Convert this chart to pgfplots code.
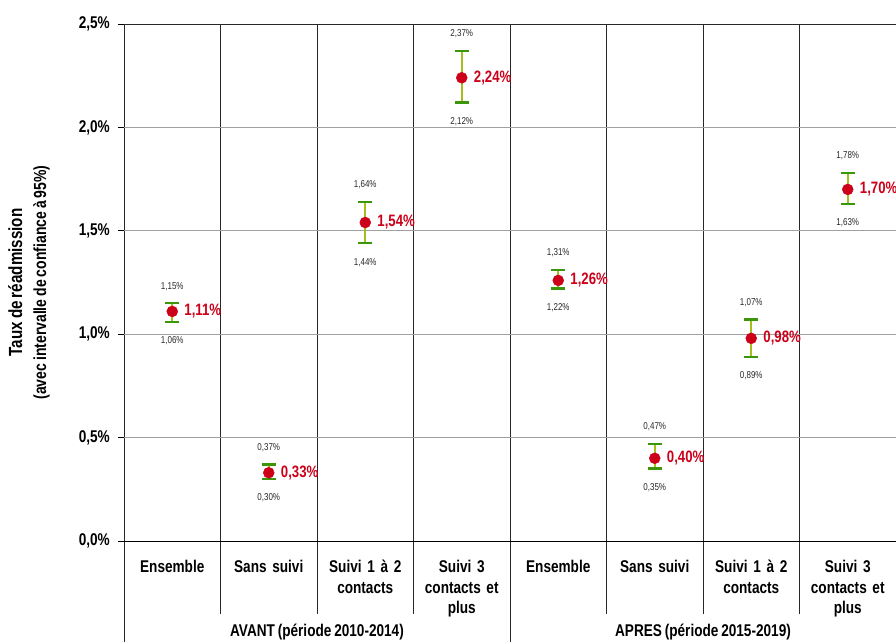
\documentclass[border=0pt]{standalone}
\usepackage{fontspec}
\setmainfont{Liberation Sans}[FakeStretch=0.8, WordSpace=0.75]
\usepackage{pgfplots}
\pgfplotsset{compat=1.18}
\usepackage{pgfplotstable}

\definecolor{myred}{RGB}{204,0,24}
\definecolor{olivebar}{RGB}{165,190,30}
\definecolor{capgreen}{RGB}{60,150,10}
\definecolor{vline}{RGB}{40,40,40}
\definecolor{gridgray}{RGB}{160,160,160}
\definecolor{smalltext}{RGB}{40,40,40}

\pgfplotstableread{
x y hi lo
0.5 1.11 1.15 1.06
1.5 0.33 0.37 0.30
2.5 1.54 1.64 1.44
3.5 2.24 2.37 2.12
4.5 1.26 1.31 1.22
5.5 0.40 0.47 0.35
6.5 0.98 1.07 0.89
7.5 1.70 1.78 1.63
}\data

\begin{document}
\begin{tikzpicture}
\path[use as bounding box] (-124pt,-101pt) rectangle (772pt,541pt);
% separators (axis south west is at the origin, 96.5pt per category)
\begin{scope}[vline, line width=0.9pt]
\draw (0pt,517pt) -- (0pt,-101pt);
\draw (386pt,517pt) -- (386pt,-101pt);
\draw (96.5pt,517pt) -- (96.5pt,-73pt);
\draw (193pt,517pt) -- (193pt,-73pt);
\draw (289.5pt,517pt) -- (289.5pt,-73pt);
\draw (482.5pt,517pt) -- (482.5pt,-73pt);
\draw (579pt,517pt) -- (579pt,-73pt);
\draw (675.5pt,517pt) -- (675.5pt,-73pt);
\draw (772pt,517pt) -- (772pt,-73pt);
\end{scope}
\begin{axis}[
  scale only axis, width=772pt, height=517pt,
  xmin=0, xmax=8, ymin=0, ymax=2.5,
  clip=false,
  axis line style={draw=none},
  ytick={0,0.5,1,1.5,2,2.5},
  yticklabels={{0,0\%},{0,5\%},{1,0\%},{1,5\%},{2,0\%},{2,5\%}},
  ytick pos=left,
  tick align=outside,
  major tick length=6pt,
  ytick style={black, line width=0.8pt},
  yticklabel style={font=\fontsize{17}{19}\selectfont\bfseries, inner sep=0pt, anchor=east, xshift=-8pt},
  ymajorgrids,
  grid style={gridgray, line width=0.7pt},
  xtick={0.5,1.5,2.5,3.5,4.5,5.5,6.5,7.5},
  xticklabels={Ensemble, Sans suivi, {Suivi 1 à 2\\contacts}, {Suivi 3\\contacts et\\plus},
               Ensemble, Sans suivi, {Suivi 1 à 2\\contacts}, {Suivi 3\\contacts et\\plus}},
  xtick style={draw=none},
  xticklabel style={font=\fontsize{17}{20.5}\selectfont\bfseries, align=center, text width=92pt, inner sep=0pt, anchor=north, yshift=-13pt},
  ylabel={{\fontsize{19}{24}\selectfont Taux de réadmission}\\{\fontsize{17.5}{24}\selectfont(avec intervalle de confiance à 95\%)}},
  ylabel style={font=\fontsize{17.5}{24}\selectfont\bfseries, align=center, at={(axis description cs:-0.123,0.5)}, anchor=center},
  /pgf/number format/.cd, use comma, fixed, fixed zerofill, precision=2, assume math mode=true,
]
\draw[vline, line width=0.9pt] (axis cs:0,2.5) -- (axis cs:8,2.5);
\draw[black, line width=0.9pt] (axis cs:0,0) -- (axis cs:8,0);

% error bars + points
\addplot[only marks, mark=*, mark size=5.5pt, myred,
  error bars/.cd, y dir=both, y explicit,
  error bar style={olivebar, line width=2pt},
  error mark options={capgreen, line width=2.5pt, mark size=7pt, rotate=90}]
  table[x=x, y=y, y error plus expr=\thisrow{hi}-\thisrow{y}, y error minus expr=\thisrow{y}-\thisrow{lo}] {\data};

% value labels
\addplot[draw=none, mark=none, point meta=explicit,
  nodes near coords={\pgfmathprintnumber{\pgfplotspointmeta}\%},
  every node near coord/.append style={anchor=west, inner sep=0pt, xshift=12pt, text=myred, font=\fontsize{16.5}{19}\selectfont\bfseries}]
  table[x=x, y=y, meta=y] {\data};
% upper bound labels
\addplot[draw=none, mark=none, point meta=explicit,
  nodes near coords={\pgfmathprintnumber{\pgfplotspointmeta}\%},
  every node near coord/.append style={anchor=center, inner sep=0pt, yshift=17pt, text=smalltext, font=\fontsize{10}{12}\selectfont}]
  table[x=x, y=hi, meta=hi] {\data};
% lower bound labels
\addplot[draw=none, mark=none, point meta=explicit,
  nodes near coords={\pgfmathprintnumber{\pgfplotspointmeta}\%},
  every node near coord/.append style={anchor=center, inner sep=0pt, yshift=-19pt, text=smalltext, font=\fontsize{10}{12}\selectfont}]
  table[x=x, y=lo, meta=lo] {\data};

\node[font=\fontsize{17}{19}\selectfont\bfseries] at (axis cs:2,0) [yshift=-91pt] {AVANT (période 2010-2014)};
\node[font=\fontsize{17}{19}\selectfont\bfseries] at (axis cs:6,0) [yshift=-91pt] {APRES (période 2015-2019)};
\end{axis}
\end{tikzpicture}
\end{document}
